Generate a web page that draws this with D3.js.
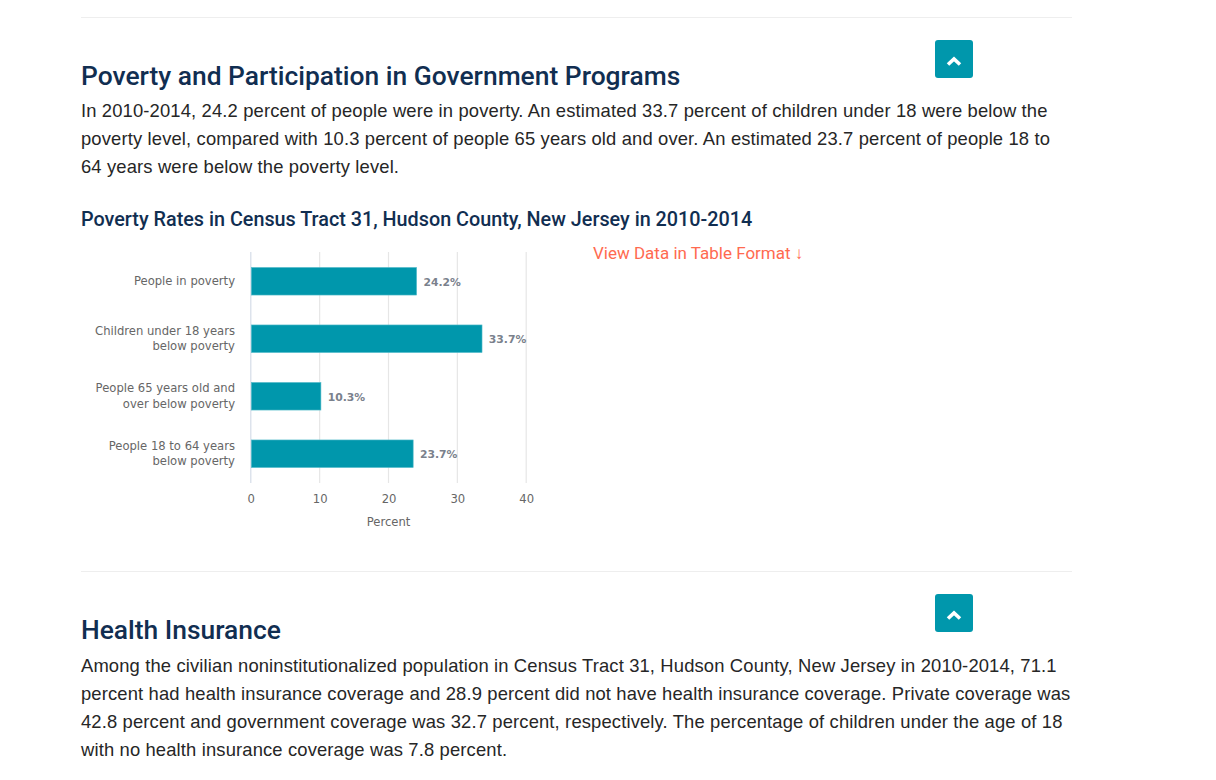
<!DOCTYPE html>
<html>
<head>
<meta charset="utf-8">
<script src="https://cdn.jsdelivr.net/npm/d3@7"></script>
<style>
html, body { margin: 0; padding: 0; background: #fff; overflow: hidden; }
svg { display: block; }
</style>
</head>
<body>
<div class="container"></div>
<script>
var categories = [
  ["People in poverty"],
  ["Children under 18 years", "below poverty"],
  ["People 65 years old and", "over below poverty"],
  ["People 18 to 64 years", "below poverty"]
];
var values = [24.2, 33.7, 10.3, 23.7];
var xTicks = [0, 10, 20, 30, 40];
var axisTitle = "Percent";

var dividers = [17.5, 571.5];
var buttons = [40, 594];

var heading1 = "Poverty and Participation in Government Programs";
var para1 = [
  "In 2010-2014, 24.2 percent of people were in poverty. An estimated 33.7 percent of children under 18 were below the",
  "poverty level, compared with 10.3 percent of people 65 years old and over. An estimated 23.7 percent of people 18 to",
  "64 years were below the poverty level."
];
var chartTitle = "Poverty Rates in Census Tract 31, Hudson County, New Jersey in 2010-2014";
var tableLink = "View Data in Table Format ↓";
var heading2 = "Health Insurance";
var para2 = [
  "Among the civilian noninstitutionalized population in Census Tract 31, Hudson County, New Jersey in 2010-2014, 71.1",
  "percent had health insurance coverage and 28.9 percent did not have health insurance coverage. Private coverage was",
  "42.8 percent and government coverage was 32.7 percent, respectively. The percentage of children under the age of 18",
  "with no health insurance coverage was 7.8 percent."
];

var teal = "#0097ac";
var navy = "#112e51";
var bodyFont = "Liberation Sans, Arial, sans-serif";
var headFont = "Roboto, sans-serif";
var chartFont = "DejaVu Sans, Verdana, sans-serif";

var stage = d3.select(".container").append("svg")
  .attr("width", 1216)
  .attr("height", 780);

// page furniture
stage.selectAll("line.divider").data(dividers).enter().append("line")
  .attr("class", "divider")
  .attr("x1", 81).attr("x2", 1072)
  .attr("y1", function(d) { return d; })
  .attr("y2", function(d) { return d; })
  .attr("stroke", "#eeeeee");

function drawButton(y) {
  stage.append("rect")
    .attr("x", 935).attr("y", y)
    .attr("width", 38).attr("height", 38)
    .attr("rx", 3)
    .attr("fill", teal);
  stage.append("path")
    .attr("d", "M948 " + (y + 24.5) + "L954 " + (y + 19) + "L960 " + (y + 24.5))
    .attr("fill", "none")
    .attr("stroke", "#fff")
    .attr("stroke-width", 3.6);
}
buttons.forEach(drawButton);

function drawHeading(text, y) {
  stage.append("text")
    .attr("x", 81).attr("y", y)
    .attr("font-family", headFont)
    .attr("font-weight", 500)
    .attr("font-size", 26.4)
    .attr("fill", navy)
    .text(text);
}

function drawPara(lines, y0) {
  stage.selectAll(null).data(lines).enter().append("text")
    .attr("x", 81)
    .attr("y", function(d, i) { return y0 + i * 28; })
    .attr("font-family", bodyFont)
    .attr("font-size", 18.4)
    .attr("letter-spacing", 0.14)
    .attr("fill", "#262626")
    .text(function(d) { return d; });
}

drawHeading(heading1, 85);
drawPara(para1, 116.5);
drawHeading(heading2, 639);
drawPara(para2, 671.5);

stage.append("text")
  .attr("x", 81).attr("y", 226)
  .attr("font-family", headFont)
  .attr("font-weight", 500)
  .attr("font-size", 19.8)
  .attr("fill", navy)
  .text(chartTitle);

stage.append("text")
  .attr("x", 593).attr("y", 259)
  .attr("font-family", headFont)
  .attr("font-size", 17)
  .attr("fill", "#ff6a50")
  .text(tableLink);

// chart
var x = d3.scaleLinear().domain([0, 40]).range([250.8, 526.2]);
var y = d3.scaleBand()
  .domain(d3.range(categories.length))
  .range([252.5, 482.5])
  .paddingInner(0.52)
  .paddingOuter(0.26);

stage.selectAll("line.grid").data(xTicks).enter().append("line")
  .attr("class", "grid")
  .attr("x1", function(d) { return x(d); })
  .attr("x2", function(d) { return x(d); })
  .attr("y1", 252).attr("y2", 483)
  .attr("stroke", function(d) { return d === 0 ? "#d5dde8" : "#e6e6e6"; })
  .attr("stroke-width", 1.2);

// 1px lighter border sits inside the bar end, as in the reference
stage.selectAll("rect.bar").data(values).enter().append("rect")
  .attr("class", "bar")
  .attr("x", x(0) + 0.5)
  .attr("y", function(d, i) { return y(i); })
  .attr("width", function(d) { return x(d) - x(0) - 1.3; })
  .attr("height", y.bandwidth())
  .attr("fill", teal)
  .attr("stroke", "#58bccb")
  .attr("stroke-width", 0.6);

stage.selectAll("text.val").data(values).enter().append("text")
  .attr("class", "val")
  .attr("x", function(d) { return x(d) + 6; })
  .attr("y", function(d, i) { return y(i) + y.bandwidth() / 2 + 4.5; })
  .attr("font-family", chartFont)
  .attr("font-size", 10.8)
  .attr("font-weight", "bold")
  .attr("fill", "#7a818c")
  .text(function(d) { return d.toFixed(1) + "%"; });

// category labels, one or two lines
categories.forEach(function(lines, i) {
  var cy = y(i) + y.bandwidth() / 2;
  stage.selectAll(null).data(lines).enter().append("text")
    .attr("x", 235)
    .attr("y", function(d, j) { return cy + 3.5 + (j - (lines.length - 1) / 2) * 15.5; })
    .attr("text-anchor", "end")
    .attr("font-family", chartFont)
    .attr("font-size", 11.6)
    .attr("fill", "#666666")
    .text(function(d) { return d; });
});

var xAxis = d3.axisBottom(x).tickValues(xTicks).tickSize(0).tickPadding(0);
var axisG = stage.append("g")
  .attr("transform", "translate(0,494.5)")
  .call(xAxis);
axisG.select(".domain").remove();
axisG.selectAll("text")
  .attr("font-family", chartFont)
  .attr("font-size", 11.6)
  .attr("fill", "#666666");

stage.append("text")
  .attr("x", x(20)).attr("y", 525.5)
  .attr("text-anchor", "middle")
  .attr("font-family", chartFont)
  .attr("font-size", 11.6)
  .attr("fill", "#666666")
  .text(axisTitle);
</script>
</body>
</html>
